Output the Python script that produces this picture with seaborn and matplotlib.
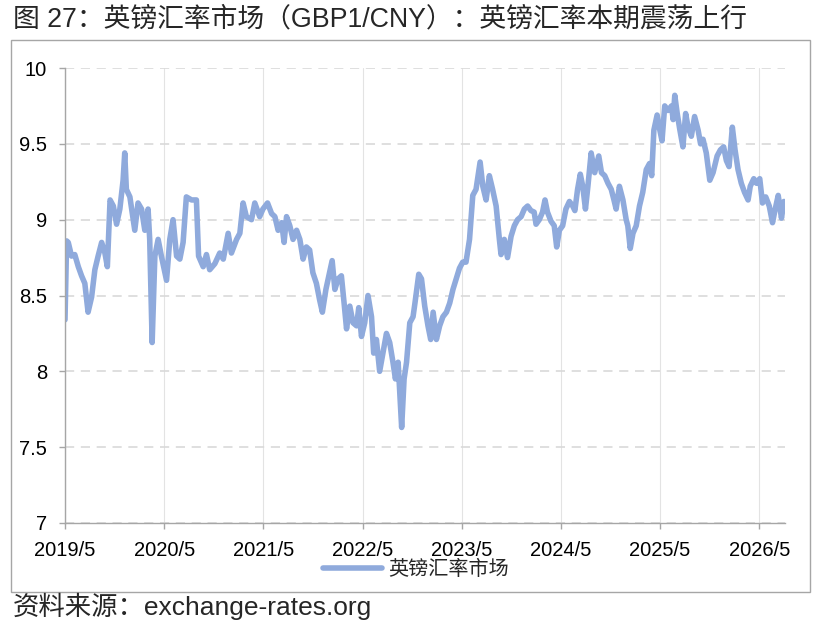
import pandas as pd
import matplotlib
matplotlib.use("Agg")
import matplotlib.pyplot as plt
from matplotlib.lines import Line2D
from matplotlib.patches import Rectangle
import seaborn as sns

# ---------------- data ----------------
dates = [
    "2019-05-01", "2019-05-07", "2019-05-13", "2019-05-25", "2019-06-06", "2019-06-19", "2019-07-01",
    "2019-07-13", "2019-07-25", "2019-08-07", "2019-08-19", "2019-08-31", "2019-09-13", "2019-09-25",
    "2019-10-04", "2019-10-14", "2019-10-26", "2019-11-07", "2019-11-19", "2019-12-01", "2019-12-07",
    "2019-12-13", "2019-12-26",
    "2020-01-07", "2020-01-13", "2020-01-25", "2020-02-07", "2020-02-19", "2020-03-02", "2020-03-08",
    "2020-03-17", "2020-03-27", "2020-04-08", "2020-04-20", "2020-05-09", "2020-05-21", "2020-06-02",
    "2020-06-15", "2020-06-27", "2020-07-09", "2020-07-21", "2020-08-09", "2020-08-27", "2020-09-04",
    "2020-09-21", "2020-10-03", "2020-10-15", "2020-11-03", "2020-11-21", "2020-12-04", "2020-12-22",
    "2021-01-03", "2021-01-22", "2021-02-03", "2021-02-15", "2021-02-27", "2021-03-18", "2021-03-30",
    "2021-04-17", "2021-04-29", "2021-05-16", "2021-05-31", "2021-06-12", "2021-06-24", "2021-07-07",
    "2021-07-16", "2021-07-25", "2021-08-06", "2021-08-18", "2021-08-31", "2021-09-12", "2021-09-24",
    "2021-10-06", "2021-10-18", "2021-10-30", "2021-11-12", "2021-11-24", "2021-12-04", "2021-12-17",
    "2021-12-28",
    "2022-01-09", "2022-01-19", "2022-01-31", "2022-02-12", "2022-02-22", "2022-03-03", "2022-03-15",
    "2022-03-27", "2022-04-09", "2022-04-17", "2022-04-27", "2022-05-09", "2022-05-21", "2022-06-03",
    "2022-06-11", "2022-06-21", "2022-07-03", "2022-07-15", "2022-07-28", "2022-08-09", "2022-08-21",
    "2022-08-30", "2022-09-09", "2022-09-22", "2022-10-01", "2022-10-10", "2022-10-22", "2022-11-03",
    "2022-11-10", "2022-11-24", "2022-12-04", "2022-12-16", "2022-12-28",
    "2023-01-07", "2023-01-16", "2023-01-28", "2023-02-09", "2023-02-21", "2023-03-06", "2023-03-18",
    "2023-03-30", "2023-04-11", "2023-04-23", "2023-05-05", "2023-05-17", "2023-05-30", "2023-06-11",
    "2023-06-23", "2023-07-08", "2023-07-18", "2023-07-30", "2023-08-11", "2023-08-23", "2023-09-05",
    "2023-09-17", "2023-09-23", "2023-10-05", "2023-10-17", "2023-10-30", "2023-11-11", "2023-11-23",
    "2023-12-06", "2023-12-18", "2023-12-30",
    "2024-01-11", "2024-01-23", "2024-01-30", "2024-02-11", "2024-02-23", "2024-03-03", "2024-03-12",
    "2024-03-25", "2024-04-06", "2024-04-15", "2024-04-25", "2024-05-07", "2024-05-19", "2024-06-01",
    "2024-06-13", "2024-06-21", "2024-07-01", "2024-07-11", "2024-07-20", "2024-07-30", "2024-08-08",
    "2024-08-20", "2024-09-02", "2024-09-17", "2024-09-27", "2024-10-09", "2024-10-21", "2024-11-02",
    "2024-11-12", "2024-11-20", "2024-12-02", "2024-12-15", "2024-12-27",
    "2025-01-02", "2025-01-11", "2025-01-21", "2025-02-02", "2025-02-14", "2025-02-26", "2025-03-11",
    "2025-03-23", "2025-03-31", "2025-04-08", "2025-04-20", "2025-04-30", "2025-05-08", "2025-05-18",
    "2025-05-30", "2025-06-12", "2025-06-18", "2025-06-24", "2025-07-03", "2025-07-12", "2025-07-24",
    "2025-08-03", "2025-08-12", "2025-08-24", "2025-09-05", "2025-09-18", "2025-09-27", "2025-10-06",
    "2025-10-18", "2025-10-31", "2025-11-12", "2025-11-27", "2025-12-09", "2025-12-21", "2025-12-31",
    "2026-01-10", "2026-01-22", "2026-02-01", "2026-02-12", "2026-02-24", "2026-03-08", "2026-03-21",
    "2026-03-29", "2026-04-11", "2026-04-21", "2026-05-03", "2026-05-13", "2026-05-25", "2026-06-07",
    "2026-06-19", "2026-06-29", "2026-07-10", "2026-07-22", "2026-07-31",
]
rates = [
    8.34, 8.86, 8.85, 8.76, 8.77, 8.69, 8.63,
    8.58, 8.39, 8.49, 8.67, 8.76, 8.85, 8.78,
    8.69, 9.13, 9.09, 8.97, 9.07, 9.26, 9.44,
    9.20, 9.15,
    9.00, 8.93, 9.11, 9.07, 8.93, 9.07, 8.87,
    8.19, 8.76, 8.87, 8.76, 8.60, 8.87, 9.00,
    8.76, 8.74, 8.85, 9.15, 9.13, 9.13, 8.76,
    8.69, 8.77, 8.67, 8.71, 8.78, 8.74, 8.91,
    8.78, 8.87, 8.91, 9.11, 9.02, 9.00, 9.11,
    9.02, 9.07, 9.11, 9.04, 9.02, 8.93, 8.98,
    8.85, 9.02, 8.96, 8.87, 8.93, 8.87, 8.74,
    8.82, 8.80, 8.65, 8.58, 8.47, 8.39, 8.54,
    8.63,
    8.73, 8.54, 8.61, 8.63, 8.45, 8.28, 8.43,
    8.32, 8.30, 8.42, 8.23, 8.32, 8.50, 8.36,
    8.12, 8.21, 8.00, 8.12, 8.25, 8.19, 8.06,
    7.95, 8.06, 7.63, 7.95, 8.06, 8.32, 8.36,
    8.45, 8.64, 8.61, 8.43, 8.30,
    8.21, 8.39, 8.21, 8.30, 8.36, 8.39, 8.45,
    8.54, 8.61, 8.68, 8.72, 8.72, 8.87, 9.16,
    9.20, 9.38, 9.22, 9.13, 9.29, 9.20, 9.09,
    8.87, 8.77, 8.87, 8.75, 8.89, 8.96, 9.00,
    9.02, 9.07, 9.09,
    9.06, 9.05, 8.97, 9.00, 9.05, 9.13, 9.05,
    8.99, 8.96, 8.82, 8.93, 8.96, 9.07, 9.12,
    9.09, 9.06, 9.20, 9.30, 9.22, 9.07, 9.22,
    9.44, 9.31, 9.42, 9.31, 9.29, 9.24, 9.20,
    9.13, 9.07, 9.22, 9.13, 9.00,
    8.96, 8.81, 8.91, 8.96, 9.09, 9.18, 9.33,
    9.37, 9.29, 9.59, 9.69, 9.59, 9.52, 9.75,
    9.72, 9.75, 9.66, 9.82, 9.70, 9.60, 9.48,
    9.70, 9.61, 9.55, 9.68, 9.59, 9.50, 9.53,
    9.44, 9.26, 9.31, 9.42, 9.46, 9.48, 9.39,
    9.35, 9.61, 9.46, 9.33, 9.24, 9.18, 9.13,
    9.22, 9.27, 9.24, 9.27, 9.11, 9.15, 9.09,
    8.98, 9.07, 9.16, 9.01, 9.12,
]
series_name = "英镑汇率市场"
title = "图 27：英镑汇率市场（GBP1/CNY）：英镑汇率本期震荡上行"
source = "资料来源：exchange-rates.org"
y_ticks = [7, 7.5, 8, 8.5, 9, 9.5, 10]
y_tick_labels = ["7", "7.5", "8", "8.5", "9", "9.5", "10"]
x_tick_dates = ["2019-05-01", "2020-05-01", "2021-05-01", "2022-05-01",
                "2023-05-01", "2024-05-01", "2025-05-01", "2026-05-01"]
x_tick_labels = ["2019/5", "2020/5", "2021/5", "2022/5",
                 "2023/5", "2024/5", "2025/5", "2026/5"]
x_range = ["2019-05-01", "2026-08-04"]

# ---------------- style ----------------
sns.set_style("white")
plt.rcParams['font.family'] = ['Liberation Sans', 'Noto Sans CJK SC', 'DejaVu Sans']
line_color = "#8FAADC"
grid_color = "#D9D9D9"
axis_color = "#A6A6A6"
line_width = 4.0

W, H = 820, 626
fig = plt.figure(figsize=(W / 100, H / 100), dpi=100)
ax = fig.add_axes([65 / W, 1 - 523 / H, 720 / W, 455 / H])

df = pd.DataFrame({"date": pd.to_datetime(dates), "rate": rates, "series": series_name})
sns.lineplot(data=df, x="date", y="rate", hue="series", palette=[line_color],
             linewidth=line_width, ax=ax, legend=False)

ax.set_xlim(pd.Timestamp(x_range[0]), pd.Timestamp(x_range[1]))
ax.set_ylim(7, 10)
ax.set_yticks(y_ticks)
ax.set_yticklabels(y_tick_labels)
ax.set_xticks(pd.to_datetime(x_tick_dates))
ax.set_xticklabels(x_tick_labels)
ax.set_xlabel("")
ax.set_ylabel("")

ax.set_axisbelow(True)
ax.yaxis.grid(True, linestyle=(0, (5.5, 4.0)), color=grid_color, linewidth=1.2)
ax.xaxis.grid(True, linestyle="-", color="#E3E3E3", linewidth=0.8)

for s in ["top", "right"]:
    ax.spines[s].set_visible(False)
for s in ["left", "bottom"]:
    ax.spines[s].set_color(axis_color)
    ax.spines[s].set_linewidth(1.0)

ax.tick_params(axis="both", which="major", direction="out", length=4, width=1,
               color=axis_color, labelsize=14.5, labelcolor="black", pad=9,
               left=True, bottom=True)

# legend below the axes
handle = Line2D([], [], color=line_color, linewidth=line_width)
fig.legend(handles=[handle], labels=[series_name], loc="center",
           bbox_to_anchor=(416 / W, 1 - 569 / H), frameon=False,
           fontsize=14.5, handlelength=2.9, handletextpad=0.3)

# outer frame
fig.patches.append(Rectangle((11 / W, 1 - 592 / H), 799 / W, 552 / H,
                             transform=fig.transFigure, fill=False,
                             edgecolor=axis_color, linewidth=1.0))

fig.text(13 / W, 1 - 19 / H, title, ha="left", va="center", fontsize=19.3)
fig.text(13 / W, 1 - 606 / H, source, ha="left", va="center", fontsize=19)

fig.savefig("out.png", dpi=100)
